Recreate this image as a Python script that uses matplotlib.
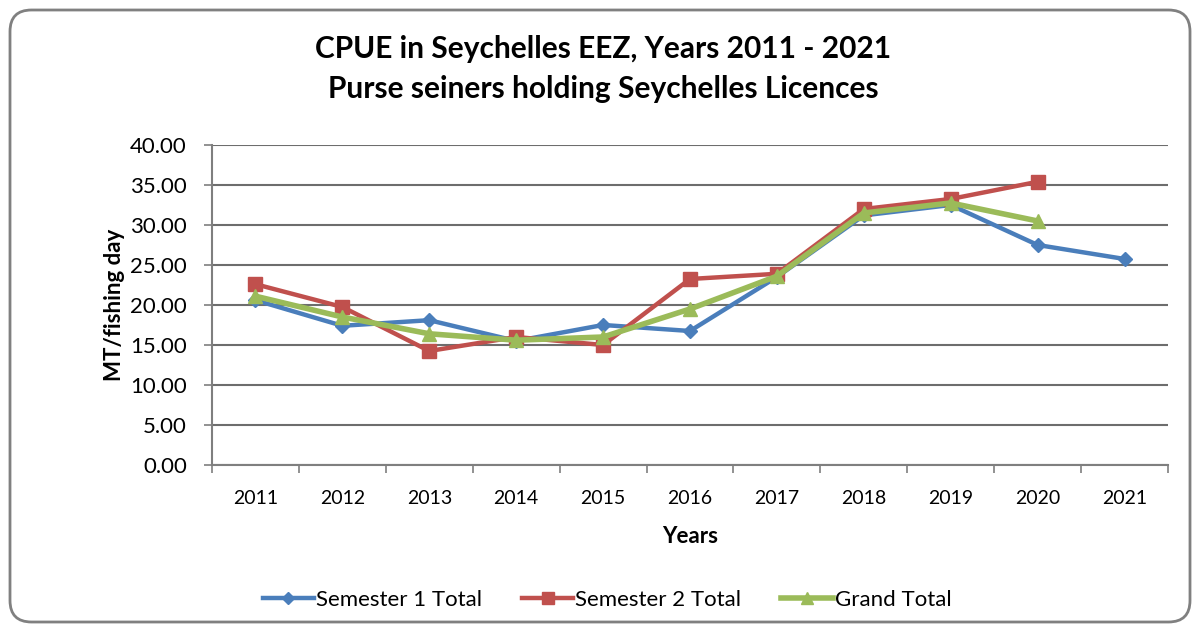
import matplotlib.pyplot as plt
from matplotlib.patches import FancyBboxPatch
from matplotlib.lines import Line2D

plt.rcParams['font.family'] = ['Lato', 'DejaVu Sans']

years = ['2011', '2012', '2013', '2014', '2015', '2016', '2017', '2018', '2019', '2020', '2021']
sem1 = [20.6, 17.4, 18.1, 15.5, 17.5, 16.75, 23.5, 31.2, 32.5, 27.5, 25.75]
sem2 = [22.6, 19.75, 14.25, 16.0, 15.0, 23.25, 23.9, 32.0, 33.25, 35.4]
grand = [21.1, 18.5, 16.4, 15.6, 16.0, 19.5, 23.6, 31.5, 32.75, 30.5]

fig = plt.figure(figsize=(11.95, 6.26), dpi=100)
# rounded chart frame
border = FancyBboxPatch((10 / 1195, 4 / 626), 1180 / 1195, 612 / 626,
                        boxstyle='round,pad=0,rounding_size=0.018',
                        transform=fig.transFigure, fill=False, edgecolor='#808080', linewidth=2,
                        mutation_aspect=1195 / 626)
fig.patches.append(border)

ax = fig.add_axes([0.1774, 0.2572, 0.8, 0.5112])
x = list(range(len(years)))

ax.plot(x[:len(sem1)], sem1, color='#4a7ebb', lw=3.2, marker='D', ms=7, label='Semester 1 Total')
ax.plot(x[:len(sem2)], sem2, color='#c0504d', lw=3.2, marker='s', ms=10, label='Semester 2 Total')
ax.plot(x[:len(grand)], grand, color='#9bbb59', lw=4, marker='^', ms=10, label='Grand Total')

ax.set_ylim(0, 40)
ax.set_xlim(-0.5, len(years) - 0.5)
ax.set_yticks(range(0, 41, 5))
ax.set_yticklabels(['%.2f' % v for v in range(0, 41, 5)], fontsize=16)
ax.set_xticks(x)
ax.set_xticklabels(years, fontsize=14)
ax.tick_params(axis='x', length=0, pad=18)
ax.set_xticks([i - 0.5 for i in range(len(years) + 1)], minor=True)
ax.tick_params(axis='x', which='minor', length=6, color='#7f7f7f', width=1.2)
ax.tick_params(axis='y', length=6, color='#7f7f7f', width=1.2, pad=12)
ax.yaxis.grid(True, color='#6d6d6d', lw=1.5)
ax.set_axisbelow(True)
for s in ['top', 'right']:
    ax.spines[s].set_visible(False)
ax.spines['left'].set_color('#7f7f7f')
ax.spines['bottom'].set_color('#7f7f7f')
ax.spines['left'].set_linewidth(1.5)
ax.spines['bottom'].set_linewidth(1.5)

ax.set_ylabel('MT/fishing day', fontsize=16, fontweight='bold', labelpad=4)
ax.set_xlabel('Years', fontsize=16, fontweight='bold', labelpad=14)

fig.text(0.505, 0.922, 'CPUE in Seychelles EEZ, Years 2011 - 2021', ha='center', va='center',
         fontsize=21.5, fontweight='bold')
fig.text(0.505, 0.858, 'Purse seiners holding Seychelles Licences', ha='center', va='center',
         fontsize=21.5, fontweight='bold')

handles = [
    Line2D([], [], color='#4a7ebb', lw=3.2, marker='D', ms=6),
    Line2D([], [], color='#c0504d', lw=3.2, marker='s', ms=9),
    Line2D([], [], color='#9bbb59', lw=4, marker='^', ms=9),
]
fig.legend(handles, ['Semester 1 Total', 'Semester 2 Total', 'Grand Total'], loc='center',
           bbox_to_anchor=(0.508, 0.042), ncol=3, frameon=False, fontsize=16,
           handlelength=2.3, handletextpad=0.1, columnspacing=1.8)

fig.savefig('out.png', dpi=100)
